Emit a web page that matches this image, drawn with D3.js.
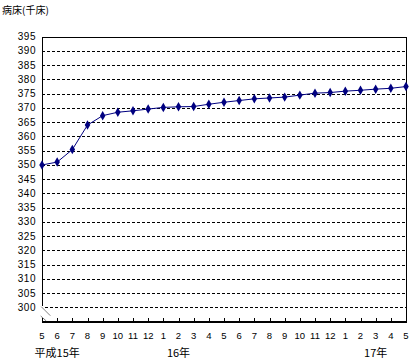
<!DOCTYPE html>
<html><head><meta charset="utf-8">
<script src="https://cdnjs.cloudflare.com/ajax/libs/d3/7.8.5/d3.min.js"></script>
<style>
html,body{margin:0;padding:0;background:#fff;}
svg{display:block;}
</style></head>
<body>
<svg id="c" width="413" height="359"></svg>
<script>
const months = ["5","6","7","8","9","10","11","12","1","2","3","4","5","6","7","8","9","10","11","12","1","2","3","4","5"];
const beds = [350.0,351.0,355.4,364.0,367.3,368.5,369.0,369.6,370.2,370.4,370.5,371.3,372.0,372.6,373.2,373.5,373.8,374.5,375.2,375.4,375.9,376.2,376.6,376.9,377.5];
const yTicks = [300,305,310,315,320,325,330,335,340,345,350,355,360,365,370,375,380,385,390,395];
const yearLabels = [{i:1,t:"平成15年"},{i:9,t:"16年"},{i:22,t:"17年"}];
const title = "病床(千床)";

const svg = d3.select("#c");
const L=42, R=406, T=36.7, B=321.7;
const x = d3.scaleLinear().domain([0, months.length-1]).range([L, R]);
const y = d3.scaleLinear().domain([295, 395]).range([B, T]);
const num = "'Liberation Sans', Arial, sans-serif";
const cjk = "'Noto Sans CJK JP', sans-serif";

svg.append("text").attr("x",2).attr("y",14).attr("font-family",cjk).attr("font-size",10)
  .attr("fill","#000").text(title);

// gridlines
svg.append("g").selectAll("line").data(yTicks.filter(d=>d<395)).join("line")
  .attr("x1",d=>d===300?45:L).attr("x2",R).attr("y1",d=>Math.round(y(d))+0.5).attr("y2",d=>Math.round(y(d))+0.5)
  .attr("stroke","#000").attr("stroke-width",1).attr("stroke-dasharray","3,2");

// top border
svg.append("line").attr("x1",L).attr("x2",R+0.5).attr("y1",Math.round(T)+0.5).attr("y2",Math.round(T)+0.5).attr("stroke","#000");
// right border
svg.append("line").attr("x1",R+0.5).attr("x2",R+0.5).attr("y1",Math.round(T)).attr("y2",B).attr("stroke","#000");
// left axis (broken)
svg.append("line").attr("x1",L+0.5).attr("x2",L+0.5).attr("y1",Math.round(T)).attr("y2",306).attr("stroke","#000");
// break marks
svg.append("line").attr("x1",41.3).attr("y1",306.7).attr("x2",50.3).attr("y2",315.7).attr("stroke","#808080");
svg.append("line").attr("x1",40.7).attr("y1",316).attr("x2",46.3).attr("y2",321).attr("stroke","#808080");
// bottom axis
svg.append("line").attr("x1",L).attr("x2",R+1).attr("y1",322).attr("y2",322).attr("stroke","#000").attr("stroke-width",2);
// x ticks
svg.append("g").selectAll("line").data(months).join("line")
  .attr("x1",(d,i)=>Math.round(x(i))+0.5).attr("x2",(d,i)=>Math.round(x(i))+0.5)
  .attr("y1",318).attr("y2",321).attr("stroke","#000");

// y labels
svg.append("g").selectAll("text").data(yTicks).join("text")
  .attr("x",36).attr("y",d=>y(d)+3.5).attr("text-anchor","end")
  .attr("font-family",num).attr("font-size",10).attr("letter-spacing",0.5).attr("fill","#000").text(d=>d);

// x labels
svg.append("g").selectAll("text").data(months).join("text")
  .attr("x",(d,i)=>x(i)).attr("y",338.5).attr("text-anchor","middle")
  .attr("font-family",num).attr("font-size",9.5).attr("fill","#000").text(d=>d);

svg.append("g").selectAll("text").data(yearLabels).join("text")
  .attr("x",d=>x(d.i)).attr("y",356.5).attr("text-anchor","middle")
  .attr("font-family",cjk).attr("font-size",11).attr("fill","#000").text(d=>d.t);

// line
const line = d3.line().x((d,i)=>x(i)).y(d=>y(d));
svg.append("path").datum(beds).attr("d",line).attr("fill","none").attr("stroke","#000080").attr("stroke-width",1);
svg.append("g").selectAll("path").data(beds).join("path")
  .attr("transform",(d,i)=>`translate(${x(i)},${y(d)})`)
  .attr("d",d3.symbol().type(d3.symbolDiamond).size(26))
  .attr("fill","#000080");
</script>
</body></html>
